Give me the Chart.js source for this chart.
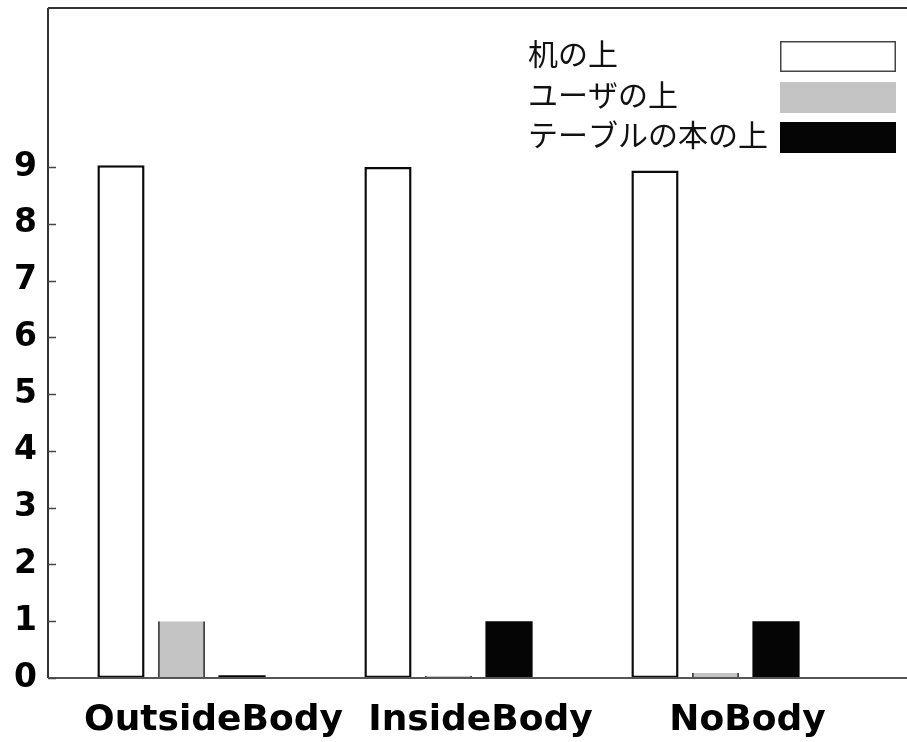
<!DOCTYPE html>
<html>
<head>
<meta charset="utf-8">
<script src="https://cdn.jsdelivr.net/npm/chart.js@4/dist/chart.umd.min.js"></script>
<style>
  html, body { margin: 0; padding: 0; background: #fff; }
  #wrap { width: 907px; height: 742px; }
</style>
</head>
<body>
<div id="wrap"><canvas id="c" width="907" height="742"></canvas></div>
<script>
// Categories and series
const categories = ['OutsideBody', 'InsideBody', 'NoBody'];
const seriesNames = ['机の上', 'ユーザの上', 'テーブルの本の上'];
const onDesk = [9.03, 9.0, 8.94];
const onUser = [1.0, 0.04, 0.09];
const onBook = [0.05, 1.0, 1.0];
const yTicks = [0, 1, 2, 3, 4, 5, 6, 7, 8, 9];
const yMax = 11.8;

// Frame lines, inward y ticks, and a legend with swatches on the right
const framePlugin = {
  id: 'frame',
  afterDraw(chart) {
    const { ctx, chartArea: a, scales } = chart;
    const y = scales.y;
    const W = chart.width;
    ctx.save();
    ctx.lineWidth = 2;
    ctx.strokeStyle = '#333';
    ctx.beginPath();
    ctx.moveTo(a.left, a.top); ctx.lineTo(a.left, a.bottom);
    ctx.moveTo(a.left, a.top); ctx.lineTo(W, a.top);
    ctx.stroke();
    ctx.strokeStyle = '#555';
    ctx.beginPath();
    ctx.moveTo(a.left, a.bottom); ctx.lineTo(W, a.bottom);
    ctx.stroke();
    ctx.strokeStyle = '#444';
    ctx.lineWidth = 1.5;
    ctx.beginPath();
    yTicks.forEach(v => {
      const py = Math.round(y.getPixelForValue(v)) + 0.5;
      ctx.moveTo(a.left, py); ctx.lineTo(a.left + 8, py);
    });
    ctx.stroke();

    // legend
    const tx = 528, bx = 780, bw = 116, bh = 31;
    const rows = [41, 82, 122];
    ctx.font = '30px "Noto Sans CJK JP", sans-serif';
    ctx.textBaseline = 'middle';
    ctx.textAlign = 'left';
    chart.data.datasets.forEach((ds, i) => {
      const top = rows[i];
      ctx.fillStyle = '#111';
      ctx.fillText(ds.label, tx, top + bh / 2 - 3);
      ctx.fillStyle = ds.backgroundColor;
      ctx.fillRect(bx, top, bw, bh);
      if (i === 0) {
        ctx.strokeStyle = '#444';
        ctx.lineWidth = 1.5;
        ctx.strokeRect(bx + 0.75, top + 0.75, bw - 1.5, bh - 1.5);
      }
    });
    ctx.restore();
  }
};

new Chart(document.getElementById('c'), {
  type: 'bar',
  data: {
    labels: categories,
    datasets: [
      { label: seriesNames[0], data: onDesk, backgroundColor: '#ffffff',
        borderColor: '#0a0a0a', borderWidth: 2.5, borderSkipped: false },
      { label: seriesNames[1], data: onUser, backgroundColor: '#c3c4c3',
        borderColor: '#444', borderWidth: { left: 2, right: 2, top: 0, bottom: 0 }, borderSkipped: false },
      { label: seriesNames[2], data: onBook, backgroundColor: '#050505',
        borderWidth: 0 }
    ]
  },
  options: {
    responsive: false,
    animation: false,
    devicePixelRatio: 1,
    categoryPercentage: 0.68,
    barPercentage: 0.78,
    layout: { padding: { top: 8, right: 58, left: 0, bottom: 0 } },
    plugins: { legend: { display: false }, tooltip: { enabled: false } },
    scales: {
      x: {
        grid: { display: false, drawTicks: false },
        border: { display: false },
        afterFit: s => { s.height = 64; },
        ticks: {
          color: '#000',
          padding: 21,
          labelOffset: 32,
          maxRotation: 0,
          font: { family: '"DejaVu Sans", sans-serif', weight: 'bold', size: 36 }
        }
      },
      y: {
        min: 0,
        max: yMax,
        grid: { display: false, drawTicks: false },
        border: { display: false },
        afterFit: s => { s.width = 48; s.paddingTop = 0; s.paddingBottom = 0; },
        afterBuildTicks: s => { s.ticks = yTicks.map(v => ({ value: v })); },
        ticks: {
          color: '#000',
          padding: 11,
          font: { family: '"DejaVu Sans", sans-serif', weight: 'bold', size: 33 }
        }
      }
    }
  },
  plugins: [framePlugin]
});
</script>
</body>
</html>
